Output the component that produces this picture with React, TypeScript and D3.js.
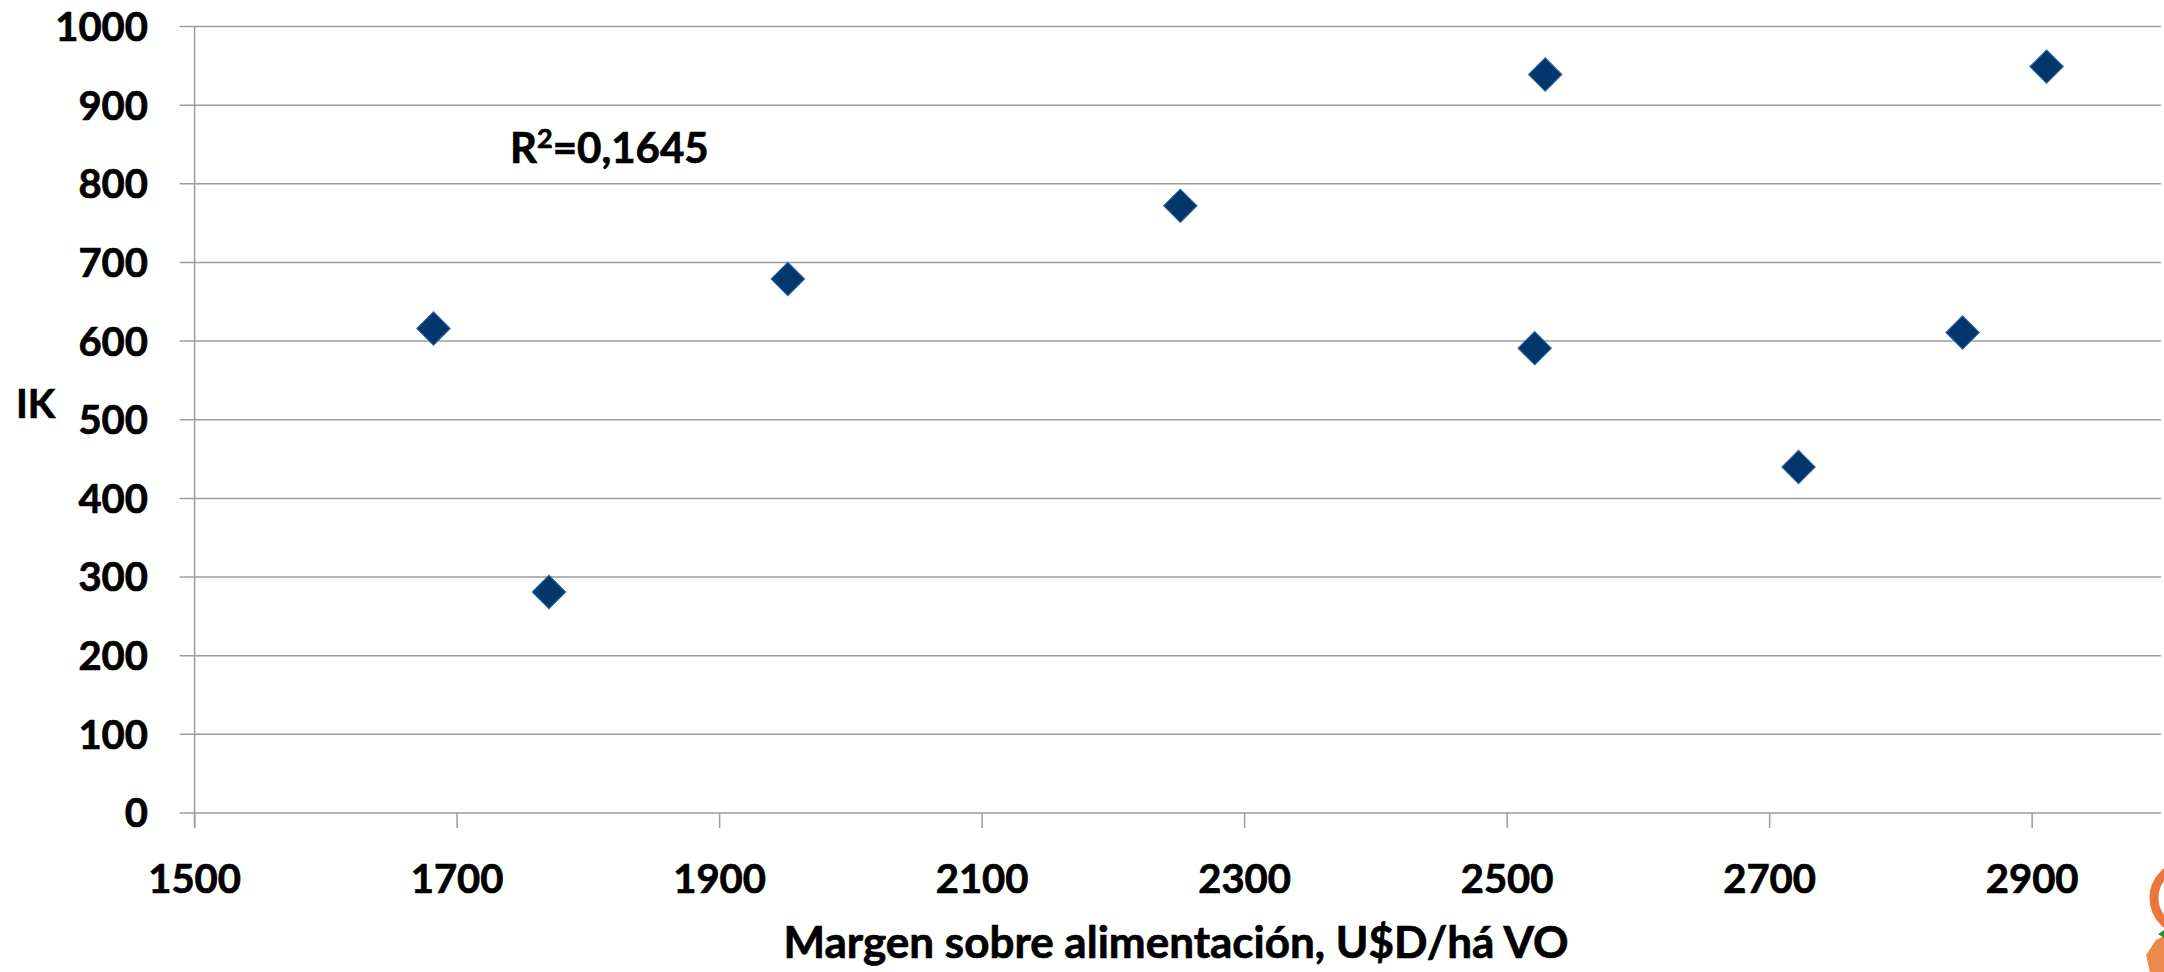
import React from 'react';
import * as d3 from 'd3';

// Margen sobre alimentación (U$D/há VO) vs IK
const margen = [1682, 1770, 1952, 2251, 2529, 2521, 2722, 2847, 2911];
const ik = [616, 281, 679, 772, 939, 591, 440, 611, 949];
const xTicks = [1500, 1700, 1900, 2100, 2300, 2500, 2700, 2900];
const yTicks = [0, 100, 200, 300, 400, 500, 600, 700, 800, 900, 1000];
const r2Label = '0,1645';

const width = 2164;
const height = 972;
const font = 'Lato, "Open Sans", sans-serif';

export default function App() {
  const x = d3.scaleLinear().domain([1500, 3000]).range([194.6, 2163.4]);
  const y = d3.scaleLinear().domain([0, 1000]).range([813, 26.5]);

  const diamond = d3.symbol().type(d3.symbolSquare).size(560)() as string;
  const points = margen.map((m, i) => ({ m, v: ik[i] }));

  const gridRight = 2161;
  const axisX = x(1500);
  const tickLen = 15;

  // a thin outline to get closer to the heavier original bold face
  const textStyle = { fill: '#000', stroke: '#000', strokeWidth: 0.7 };

  return (
    <svg
      width={width}
      height={height}
      style={{ position: 'absolute', left: 0, top: 0, background: '#fff' }}
      fontFamily={font}
      fontWeight="bold"
    >
      <rect width={width} height={height} fill="#fff" />

      {/* horizontal gridlines + y ticks */}
      {yTicks.map((t) => (
        <g key={'y' + t}>
          <line
            x1={axisX - tickLen}
            x2={gridRight}
            y1={y(t)}
            y2={y(t)}
            stroke="#9c9c9c"
            strokeWidth={1.5}
          />
          <text x={148} y={y(t)} dy="0.36em" textAnchor="end" fontSize={40} style={textStyle}>
            {t}
          </text>
        </g>
      ))}

      {/* y axis */}
      <line x1={axisX} x2={axisX} y1={y(1000)} y2={y(0) + tickLen} stroke="#9c9c9c" strokeWidth={1.5} />

      {/* x ticks */}
      {xTicks.map((t) => (
        <g key={'x' + t}>
          <line x1={x(t)} x2={x(t)} y1={y(0)} y2={y(0) + tickLen} stroke="#9c9c9c" strokeWidth={1.5} />
          <text x={x(t)} y={893} textAnchor="middle" fontSize={40} style={textStyle}>
            {t}
          </text>
        </g>
      ))}

      {/* points */}
      {points.map((p, i) => (
        <path
          key={i}
          d={diamond}
          transform={`translate(${x(p.m)},${y(p.v)}) rotate(45)`}
          fill="#03366a"
          stroke="#3567a8"
          strokeWidth={1}
        />
      ))}

      {/* R² annotation */}
      <text x={510} y={163} fontSize={42} style={textStyle}>
        R<tspan dy={-15} fontSize={27}>2</tspan>
        <tspan dy={15}>={r2Label}</tspan>
      </text>

      {/* axis titles */}
      <text x={16} y={418} fontSize={40} style={textStyle}>IK</text>
      <text x={1176} y={958} textAnchor="middle" fontSize={44} style={textStyle}>
        Margen sobre alimentación, U$D/há VO
      </text>

      {/* corner logo fragment */}
      <circle cx={2187} cy={898} r={33} fill="none" stroke="#ea763c" strokeWidth={9} />
      <path d="M2150,972 L2146,955 L2156,940 L2164,936 L2164,972 Z" fill="#ec8a4e" />
      <path d="M2158,934 L2164,930 L2164,938 Z" fill="#2e8b3a" />
    </svg>
  );
}
